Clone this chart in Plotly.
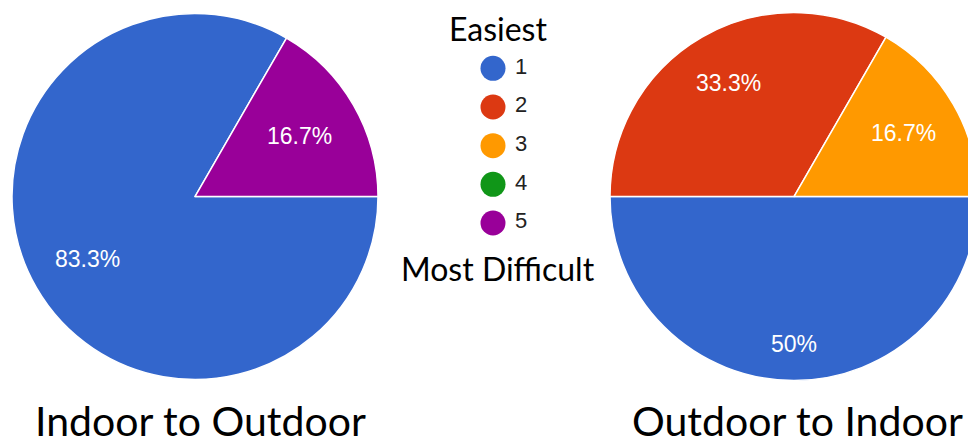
import math
import plotly.graph_objects as go

# Answer scale, from easiest (1) to most difficult (5)
levels = ["1", "2", "3", "4", "5"]
level_colors = ["#3366cc", "#dc3912", "#ff9900", "#109618", "#990099"]

# Number of responses per level for each transition
chart_titles = ["Indoor to Outdoor", "Outdoor to Indoor"]
indoor_to_outdoor = [5, 0, 0, 0, 1]
outdoor_to_indoor = [3, 2, 1, 0, 0]

# Radial placement of the percentage text, as a fraction of the pie radius
label_radius = [
    [0.68, 0.7, 0.7, 0.7, 0.66],
    [0.80, 0.71, 0.69, 0.7, 0.7],
]

W, H = 980, 447
# Pie boxes in pixels: (left, right, top, bottom)
pie_boxes = [(12, 378, 12.5, 380.5), (610, 978, 12.5, 380.5)]
title_centers = [200, 797]

LABEL_FONT = "Arial, 'Liberation Sans', sans-serif"
TITLE_FONT = "Lato, 'Open Sans', sans-serif"


def fmt_pct(v, total):
    s = f"{v / total * 100:.1f}".rstrip("0").rstrip(".")
    return s + "%"


fig = go.Figure()
annotations = []

for k, (title, counts) in enumerate(zip(chart_titles, [indoor_to_outdoor, outdoor_to_indoor])):
    x0, x1, y0, y1 = pie_boxes[k]
    keep = [i for i, v in enumerate(counts) if v > 0]
    fig.add_trace(go.Pie(
        labels=[levels[i] for i in keep],
        values=[counts[i] for i in keep],
        marker=dict(colors=[level_colors[i] for i in keep],
                    line=dict(color="white", width=1.5)),
        sort=False,
        direction="clockwise",
        rotation=90,
        textinfo="none",
        hoverinfo="label+value+percent",
        showlegend=False,
        domain=dict(x=[x0 / W, x1 / W], y=[1 - y1 / H, 1 - y0 / H]),
    ))

    # percentage labels at the middle angle of each slice
    cx, cy = (x0 + x1) / 2, (y0 + y1) / 2
    r = min(x1 - x0, y1 - y0) / 2
    total = sum(counts)
    cum = 0
    for i in keep:
        v = counts[i]
        mid = math.radians(-(cum + v / 2) / total * 360)
        cum += v
        d = label_radius[k][i] * r
        px = cx + d * math.cos(mid)
        py = cy - d * math.sin(mid)
        annotations.append(dict(
            x=px / W, y=1 - py / H, xref="paper", yref="paper",
            text=fmt_pct(v, total), showarrow=False,
            font=dict(family=LABEL_FONT, size=23, color="white"),
            xanchor="center", yanchor="middle",
        ))

    annotations.append(dict(
        x=title_centers[k] / W, y=1 - 420 / H, xref="paper", yref="paper",
        text=title, showarrow=False,
        font=dict(family=TITLE_FONT, size=41, color="#000000"),
        xanchor="center", yanchor="middle",
    ))

# Shared legend in the middle: coloured dots with the level numbers
fig.add_trace(go.Scatter(
    x=[493] * len(levels), y=levels, mode="markers",
    marker=dict(size=25, color=level_colors, line=dict(width=0)),
    hoverinfo="skip", showlegend=False,
    xaxis="x", yaxis="y",
))
fig.add_trace(go.Scatter(
    x=[515] * len(levels), y=levels, mode="text", text=levels,
    textposition="middle right",
    textfont=dict(family=LABEL_FONT, size=22, color="#222222"),
    hoverinfo="skip", showlegend=False,
    xaxis="x", yaxis="y",
))

annotations.append(dict(
    x=497.5 / W, y=1 - 29 / H, xref="paper", yref="paper",
    text="Easiest", showarrow=False,
    font=dict(family=TITLE_FONT, size=32, color="#000000"),
    xanchor="center", yanchor="middle",
))
annotations.append(dict(
    x=497.5 / W, y=1 - 268 / H, xref="paper", yref="paper",
    text="Most Difficult", showarrow=False,
    font=dict(family=TITLE_FONT, size=32, color="#000000"),
    xanchor="center", yanchor="middle",
))

fig.update_layout(
    width=W, height=H,
    margin=dict(l=0, r=0, t=0, b=0),
    paper_bgcolor="white", plot_bgcolor="rgba(0,0,0,0)",
    xaxis=dict(domain=[440 / W, 560 / W], range=[440, 560], visible=False, fixedrange=True),
    yaxis=dict(domain=[1 - 242.35 / H, 1 - 48.95 / H], range=[4.5, -0.5],
               type="category", visible=False, fixedrange=True),
    annotations=annotations,
    showlegend=False,
)

fig.write_html(
    "out.html",
    config={"displayModeBar": False},
    post_script="document.body.style.margin='0';document.body.style.overflow='hidden';",
)
